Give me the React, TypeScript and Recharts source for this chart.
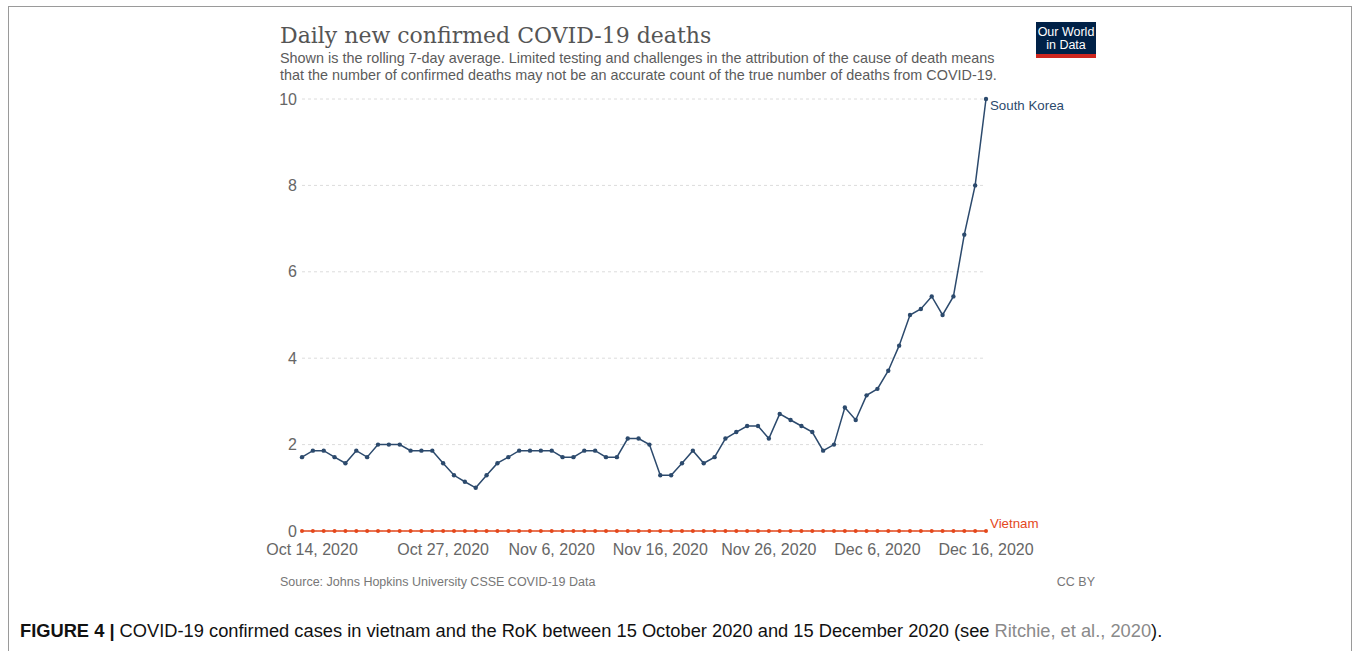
import React from 'react';
import {
  LineChart,
  Line,
  XAxis,
  YAxis,
  CartesianGrid,
  ReferenceDot,
} from 'recharts';

// 7-day rolling average of daily confirmed deaths, Oct 14 – Dec 16, 2020
const southKorea = [
  1.71, 1.86, 1.86, 1.71, 1.57, 1.86, 1.71, 2, 2, 2,
  1.86, 1.86, 1.86, 1.57, 1.29, 1.14, 1, 1.29, 1.57, 1.71,
  1.86, 1.86, 1.86, 1.86, 1.71, 1.71, 1.86, 1.86, 1.71, 1.71,
  2.14, 2.14, 2, 1.29, 1.29, 1.57, 1.86, 1.57, 1.71, 2.14,
  2.29, 2.43, 2.43, 2.14, 2.71, 2.57, 2.43, 2.29, 1.86, 2,
  2.86, 2.57, 3.14, 3.29, 3.71, 4.29, 5, 5.14, 5.43, 5,
  5.43, 6.86, 8, 10,
];

const vietnam = [
  0, 0, 0, 0, 0, 0, 0, 0, 0, 0,
  0, 0, 0, 0, 0, 0, 0, 0, 0, 0,
  0, 0, 0, 0, 0, 0, 0, 0, 0, 0,
  0, 0, 0, 0, 0, 0, 0, 0, 0, 0,
  0, 0, 0, 0, 0, 0, 0, 0, 0, 0,
  0, 0, 0, 0, 0, 0, 0, 0, 0, 0,
  0, 0, 0, 0,
];

const xTicks = [
  'Oct 14, 2020',
  'Oct 27, 2020',
  'Nov 6, 2020',
  'Nov 16, 2020',
  'Nov 26, 2020',
  'Dec 6, 2020',
  'Dec 16, 2020',
];
const yTicks = [0, 2, 4, 6, 8, 10];

const MONTHS = ['Jan', 'Feb', 'Mar', 'Apr', 'May', 'Jun', 'Jul', 'Aug', 'Sep', 'Oct', 'Nov', 'Dec'];

const dates = southKorea.map((_, i) => {
  const d = new Date(2020, 9, 14 + i);
  return `${MONTHS[d.getMonth()]} ${d.getDate()}, ${d.getFullYear()}`;
});

const chartData = dates.map((date, i) => ({
  date,
  korea: southKorea[i],
  vietnam: vietnam[i],
}));

const KOREA = '#2c4a6d';
const VIETNAM = '#e4481c';
const SANS = '"Liberation Sans", Arial, sans-serif';

const XTick = (props: any) => {
  const { x, y, payload } = props;
  const dx = payload.value === xTicks[0] ? 10 : 0;
  return (
    <text x={x + dx} y={y + 22} textAnchor="middle" fill="#666" fontSize={16} fontFamily={SANS}>
      {payload.value}
    </text>
  );
};

const endLabel = (text: string, color: string, dy: number) => (p: any) => (
  <text x={p.viewBox.x + 4} y={p.viewBox.y + dy} fill={color} fontSize={13.3} fontFamily={SANS}>
    {text}
  </text>
);

export default function App() {
  return (
    <div style={{ position: 'absolute', left: 0, top: 0, width: 1356, height: 651, background: '#fff', overflow: 'hidden' }}>
      <div
        style={{
          position: 'absolute',
          left: 8,
          top: 6,
          width: 1344,
          height: 700,
          border: '1.5px solid #9a9a9a',
          boxSizing: 'border-box',
        }}
      />
      <svg width={1356} height={651} style={{ position: 'absolute', left: 0, top: 0 }}>
        <text x={280} y={43} fill="#555" fontSize={22} fontFamily='"DejaVu Serif", Georgia, serif'>
          Daily new confirmed COVID-19 deaths
        </text>
        <text x={280} y={63} fill="#5b5b5b" fontSize={14.4} fontFamily={SANS}>
          Shown is the rolling 7-day average. Limited testing and challenges in the attribution of the cause of death means
        </text>
        <text x={280} y={80} fill="#5b5b5b" fontSize={14.4} fontFamily={SANS}>
          that the number of confirmed deaths may not be an accurate count of the true number of deaths from COVID-19.
        </text>
        <rect x={1036} y={22} width={60} height={36} fill="#002147" />
        <rect x={1036} y={54} width={60} height={4} fill="#ce261e" />
        <text x={1066} y={36} textAnchor="middle" fill="#fff" fontSize={12.5} fontFamily={SANS}>
          Our World
        </text>
        <text x={1066} y={49} textAnchor="middle" fill="#fff" fontSize={12.5} fontFamily={SANS}>
          in Data
        </text>
        <text x={280} y={586} fill="#777" fontSize={12.5} fontFamily={SANS}>
          Source: Johns Hopkins University CSSE COVID-19 Data
        </text>
        <text x={1095} y={586} textAnchor="end" fill="#777" fontSize={12.5} fontFamily={SANS}>
          CC BY
        </text>
        <text x={20} y={637} fill="#111" fontSize={18.3} fontFamily={SANS}>
          <tspan fontWeight="bold">FIGURE 4 | </tspan>
          <tspan>COVID-19 confirmed cases in vietnam and the RoK between 15 October 2020 and 15 December 2020 (see </tspan>
          <tspan fill="#8a8a8a">Ritchie, et al., 2020</tspan>
          <tspan>).</tspan>
        </text>
      </svg>
      <div style={{ position: 'absolute', left: 252, top: 79 }}>
        <LineChart width={834} height={492} data={chartData} margin={{ top: 20, right: 100, bottom: 0, left: 0 }}>
          <CartesianGrid vertical={false} strokeDasharray="3 3" stroke="#dcdcdc" />
          <XAxis
            dataKey="date"
            ticks={xTicks}
            interval={0}
            axisLine={false}
            tickLine={false}
            tickSize={0}
            height={40}
            tick={<XTick />}
          />
          <YAxis
            domain={[0, 10]}
            ticks={yTicks}
            width={50}
            axisLine={false}
            tickLine={false}
            tickSize={0}
            tickMargin={5}
            tick={{ fill: '#666', fontSize: 16, fontFamily: SANS }}
          />
          <Line
            dataKey="vietnam"
            stroke={VIETNAM}
            strokeWidth={1.5}
            dot={{ r: 2, fill: VIETNAM, stroke: VIETNAM, strokeWidth: 0 }}
            isAnimationActive={false}
          />
          <Line
            dataKey="korea"
            stroke={KOREA}
            strokeWidth={1.5}
            dot={{ r: 2.2, fill: KOREA, stroke: KOREA, strokeWidth: 0 }}
            isAnimationActive={false}
          />
          <ReferenceDot
            x={dates[dates.length - 1]}
            y={southKorea[southKorea.length - 1]}
            r={0}
            ifOverflow="visible"
            label={{ content: endLabel('South Korea', KOREA, 11) }}
          />
          <ReferenceDot
            x={dates[dates.length - 1]}
            y={vietnam[vietnam.length - 1]}
            r={0}
            ifOverflow="visible"
            label={{ content: endLabel('Vietnam', VIETNAM, -3) }}
          />
        </LineChart>
      </div>
    </div>
  );
}
